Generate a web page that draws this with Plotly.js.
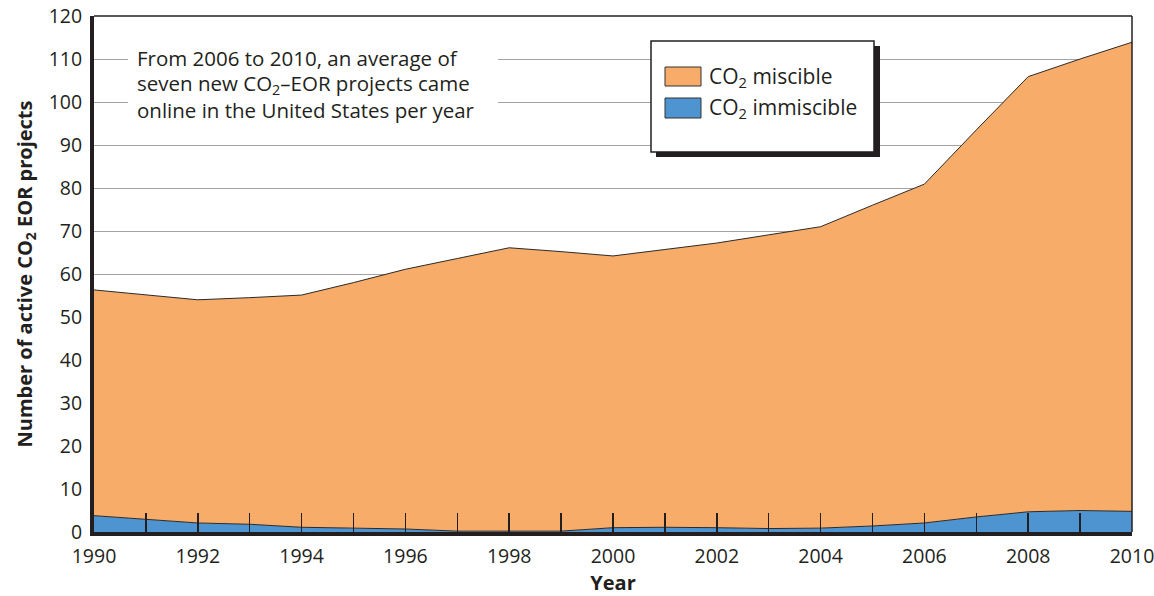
<!DOCTYPE html>
<html>
<head>
<meta charset="utf-8">
<script src="https://cdn.plot.ly/plotly-3.0.1.min.js"></script>
<style>
html,body{margin:0;padding:0;background:#fff;}
#chart{width:1154px;height:596px;}
</style>
</head>
<body>
<div id="chart"></div>
<script>
// ---- data ----
const years = [1990,1991,1992,1993,1994,1995,1996,1997,1998,1999,2000,2001,2002,2003,2004,2005,2006,2007,2008,2009,2010];
const immiscible = [3.8,2.9,2.1,1.8,1.1,0.9,0.7,0.2,0.2,0.2,1.0,1.1,1.0,0.8,0.9,1.4,2.1,3.5,4.7,5.0,4.8];
const miscible = [52.5,52.3,51.9,52.7,54.0,57.1,60.4,63.4,65.9,65.0,63.2,64.6,66.2,68.3,70.1,74.6,78.8,90.0,101.2,105.0,109.1];
const seriesNames = ["CO<sub>2</sub> miscible", "CO<sub>2</sub> immiscible"];
const yTitle = "Number of active CO<sub>2</sub> EOR projects";
const xTitle = "Year";
const noteLines = ["From 2006 to 2010, an average of", "seven new CO<sub>2</sub>–EOR projects came", "online in the United States per year"];

// ---- styling ----
const ORANGE = "#F8AC69";
const BLUE = "#4D94D0";
const INK = "#231f20";
const FONT = "Open Sans, Noto Sans, sans-serif";

const M = {l:94, r:22, t:16, b:64};
const W = 1154, H = 596;
const pw = W - M.l - M.r, ph = H - M.t - M.b;
const fx = px => (px - M.l) / pw;
const fy = py => (H - M.b - py) / ph;

const traces = [
  {x: years, y: immiscible, name: seriesNames[1], type: "scatter", mode: "lines",
   stackgroup: "one", fillcolor: BLUE, line: {color: "#2a2a2a", width: 1}, hoverinfo: "x+y"},
  {x: years, y: miscible, name: seriesNames[0], type: "scatter", mode: "lines",
   stackgroup: "one", fillcolor: ORANGE, line: {color: "#2a2a2a", width: 1}, hoverinfo: "x+y"}
];

const shapes = [
  // top and right thin frame lines
  {type:"line", xref:"paper", yref:"paper", x0:0, x1:1, y0:1, y1:1, line:{color:INK, width:1.5}, layer:"above"},
  {type:"line", xref:"paper", yref:"paper", x0:1, x1:1, y0:0, y1:1, line:{color:INK, width:1.5}, layer:"above"},
  // white panel behind the note
  {type:"rect", xref:"paper", yref:"paper", x0:fx(128), x1:fx(498), y0:fy(126), y1:fy(38), fillcolor:"#ffffff", line:{width:0}, layer:"above"},
  // legend shadow + box
  {type:"rect", xref:"paper", yref:"paper", x0:fx(656), x1:fx(880), y0:fy(157), y1:fy(46), fillcolor:INK, line:{width:0}, layer:"above"},
  {type:"rect", xref:"paper", yref:"paper", x0:fx(651), x1:fx(874), y0:fy(152), y1:fy(41), fillcolor:"#ffffff", line:{color:INK, width:1.5}, layer:"above"},
  // legend swatches
  {type:"rect", xref:"paper", yref:"paper", x0:fx(665), x1:fx(701), y0:fy(86), y1:fy(67), fillcolor:ORANGE, line:{color:"#333", width:1}, layer:"above"},
  {type:"rect", xref:"paper", yref:"paper", x0:fx(665), x1:fx(701), y0:fy(118), y1:fy(98), fillcolor:BLUE, line:{color:"#333", width:1}, layer:"above"}
];

const noteY = [58, 84, 110];
const annotations = noteLines.map((t, i) => ({
  xref:"paper", yref:"paper", x:fx(136), y:fy(noteY[i]), xanchor:"left", yanchor:"middle", align:"left",
  text: t, showarrow:false, borderpad:0, font:{family:FONT, size:20.5, color:INK}
})).concat([
  {xref:"paper", yref:"paper", x:fx(708), y:fy(76.5), xanchor:"left", yanchor:"middle",
   text: seriesNames[0], showarrow:false, borderpad:0, font:{family:FONT, size:21, color:INK}},
  {xref:"paper", yref:"paper", x:fx(708), y:fy(108), xanchor:"left", yanchor:"middle",
   text: seriesNames[1], showarrow:false, borderpad:0, font:{family:FONT, size:21, color:INK}}
]);

const layout = {
  width: W, height: H,
  margin: M,
  paper_bgcolor: "#ffffff", plot_bgcolor: "#ffffff",
  showlegend: false,
  font: {family: FONT, color: INK, size: 20},
  xaxis: {
    range: [1990, 2010], tickmode: "linear", tick0: 1990, dtick: 2,
    ticks: "inside", ticklen: 19, tickwidth: 1.5, tickcolor: INK,
    minor: {dtick: 1, tick0: 1990, ticks: "inside", ticklen: 19, tickwidth: 1.5, tickcolor: INK, showgrid: false},
    showline: true, linewidth: 4, linecolor: INK,
    showgrid: false, zeroline: false,
    tickfont: {family: FONT, size: 19.5, color: INK},
    ticklabeloverflow: "allow",
    ticklabelstandoff: 4,
    title: {text: xTitle, font: {family: FONT, size: 20, color: INK, weight: "bold"}, standoff: 13},
    fixedrange: true
  },
  yaxis: {
    range: [0, 120], tickmode: "linear", tick0: 0, dtick: 10,
    ticks: "", showline: true, linewidth: 4, linecolor: INK,
    showgrid: true, gridcolor: "#a3a3a3", gridwidth: 1, zeroline: false,
    tickfont: {family: FONT, size: 19.5, color: INK},
    ticklabelstandoff: 4,
    title: {text: yTitle, font: {family: FONT, size: 20, color: INK, weight: "bold"}, standoff: 12},
    fixedrange: true
  },
  shapes: shapes,
  annotations: annotations
};

Plotly.newPlot("chart", traces, layout, {displayModeBar: false, staticPlot: true});
</script>
</body>
</html>
